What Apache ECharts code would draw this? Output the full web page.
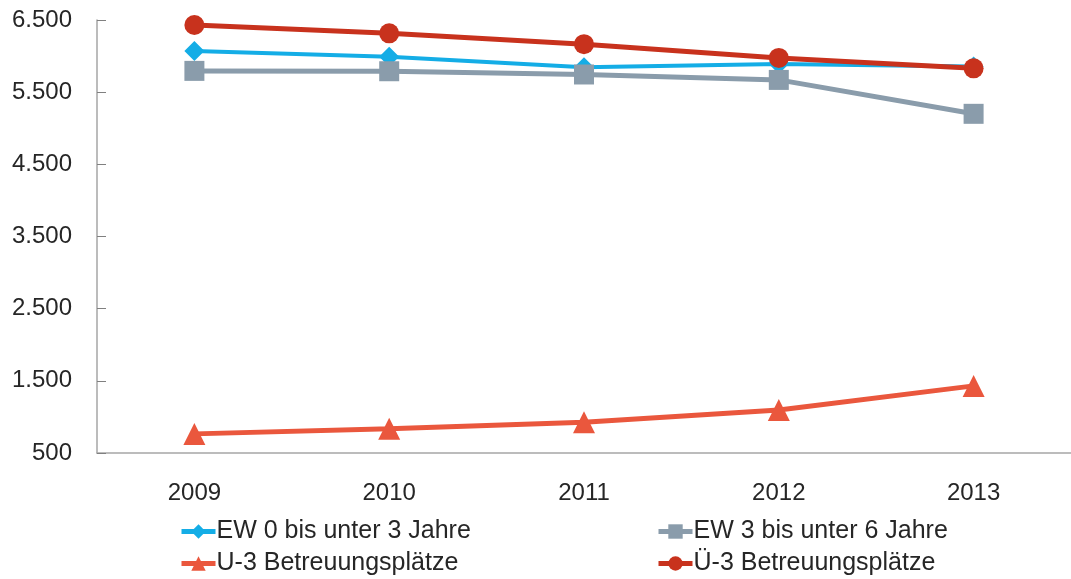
<!DOCTYPE html>
<html>
<head>
<meta charset="utf-8">
<script src="https://cdn.jsdelivr.net/npm/echarts@6/dist/echarts.min.js"></script>
<style>
html,body{margin:0;padding:0;background:#fff;}
#c{width:1071px;height:579px;}
</style>
</head>
<body>
<div id="c"></div>
<script>
const categories = ['2009', '2010', '2011', '2012', '2013'];
const seriesNames = ['EW 0 bis unter 3 Jahre', 'EW 3 bis unter 6 Jahre', 'U-3 Betreuungsplätze', 'Ü-3 Betreuungsplätze'];
const ew0bis3 = [6070, 5990, 5845, 5890, 5855];
const ew3bis6 = [5795, 5790, 5745, 5670, 5200];
const u3Plaetze = [765, 835, 925, 1095, 1430];
const ue3Plaetze = [6430, 6315, 6165, 5975, 5830];
const yTicks = [500, 1500, 2500, 3500, 4500, 5500, 6500];

const fmt = v => {
  const s = String(Math.round(v));
  return s.replace(/\B(?=(\d{3})+(?!\d))/g, '.');
};

const chart = echarts.init(document.getElementById('c'), null, {renderer: 'canvas'});
const font = 'Liberation Sans, Arial, sans-serif';
const axisColor = '#a6a6a6';

function mk(name, data, color, symbol, size, width) {
  return {
    name: name, type: 'line', data: data,
    symbol: symbol, symbolSize: size,
    lineStyle: {color: color, width: width},
    itemStyle: {color: color},
    emphasis: {disabled: true},
    animation: false
  };
}

function leg(name, left, top) {
  return {
    data: [name], orient: 'horizontal',
    left: left, top: top, itemGap: 0, itemWidth: 34, itemHeight: 18, padding: 0,
    lineStyle: {width: 5},
    textStyle: {fontSize: 25, fontFamily: font, color: '#262626', padding: [0,0,0,-4]},
    selectedMode: false
  };
}

chart.setOption({
  backgroundColor: '#fff',
  animation: false,
  grid: {left: 97, right: -6, top: 20, bottom: 126},
  xAxis: {
    type: 'category', data: categories, boundaryGap: true,
    axisLine: {lineStyle: {color: axisColor, width: 1.5}},
    axisTick: {inside: true, length: 7, lineStyle: {color: '#808080'}},
    axisLabel: {color: '#262626', fontSize: 24, fontFamily: font, margin: 28}
  },
  yAxis: {
    type: 'value', min: yTicks[0], max: yTicks[yTicks.length - 1], interval: 1000,
    axisLine: {show: true, lineStyle: {color: axisColor, width: 1.5}},
    axisTick: {show: true, inside: true, length: 9, lineStyle: {color: '#808080'}},
    splitLine: {show: false},
    axisLabel: {color: '#262626', fontSize: 24, fontFamily: font, margin: 25, formatter: fmt}
  },
  legend: [
    leg(seriesNames[0], 179, 519),
    leg(seriesNames[2], 179, 551),
    leg(seriesNames[1], 656, 519),
    leg(seriesNames[3], 656, 551)
  ],
  series: [
    mk(seriesNames[0], ew0bis3, '#14ade6', 'diamond', 20, 4),
    mk(seriesNames[1], ew3bis6, '#8a9cab', 'rect', 20, 5),
    mk(seriesNames[2], u3Plaetze, '#ea573d', 'triangle', 22, 5),
    mk(seriesNames[3], ue3Plaetze, '#c8321d', 'circle', 20, 5)
  ]
});
</script>
</body>
</html>
